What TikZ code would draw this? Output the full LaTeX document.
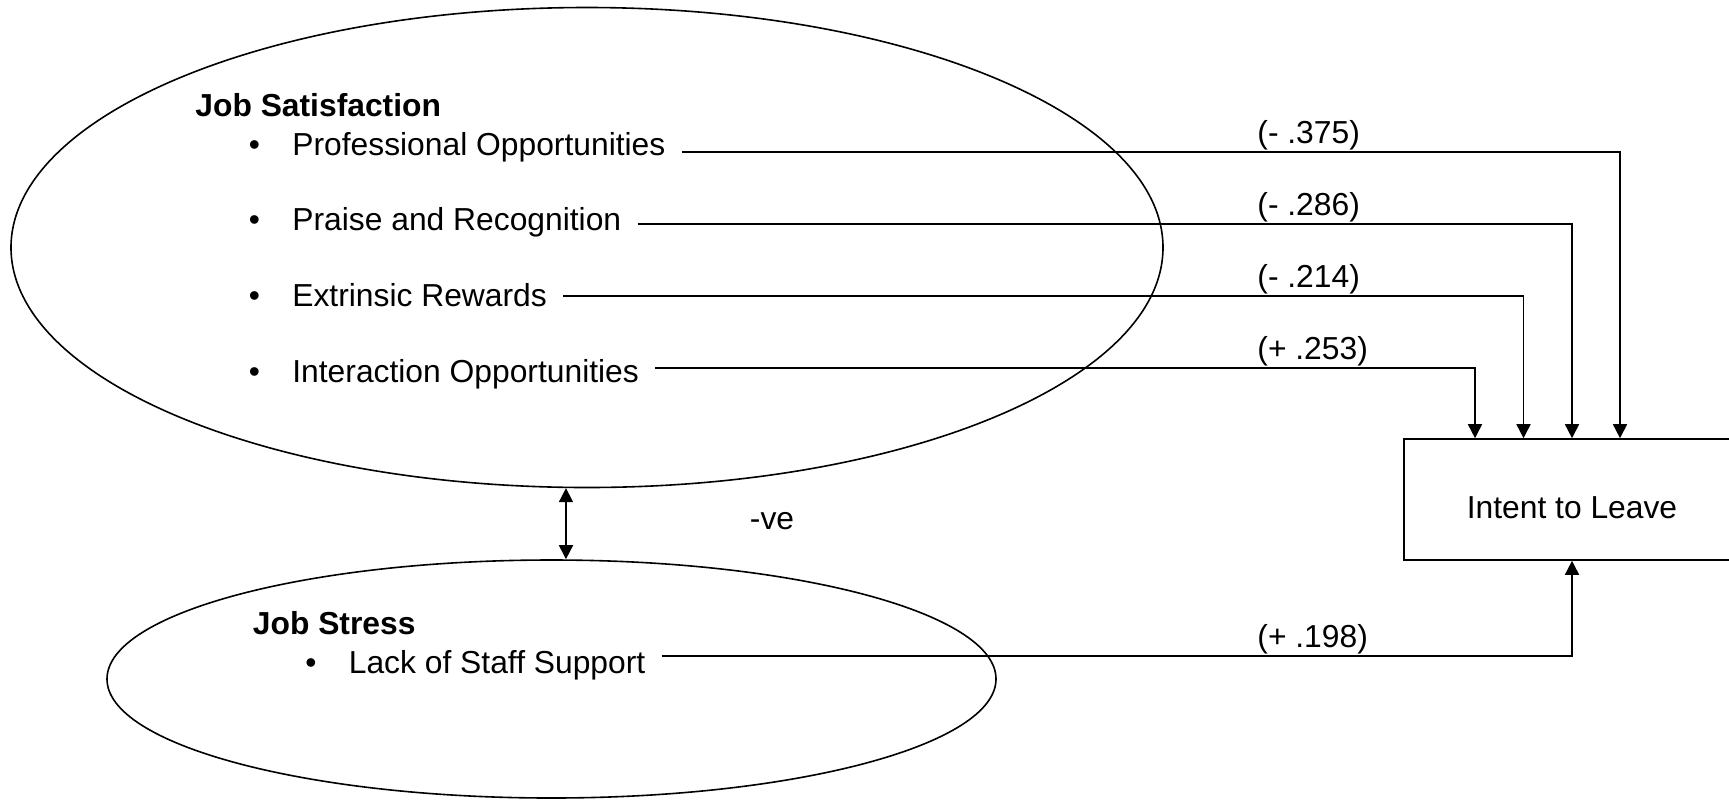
\documentclass[tikz,border=0pt]{standalone}
\usepackage{fontspec}
\setmainfont{Liberation Sans}
\usetikzlibrary{shapes.geometric,arrows.meta}
\tikzset{
  factor/.style={draw, ellipse, inner sep=0pt, line width=0.8pt},
  outcome/.style={draw, rectangle, inner sep=0pt, line width=0.8pt,
    font=\fontsize{15.9}{19}\selectfont},
  heading/.style={anchor=base west, inner sep=0pt,
    font=\fontsize{15.9}{19}\selectfont\bfseries},
  item/.style={anchor=base west, inner sep=0pt,
    font=\fontsize{15.9}{19}\selectfont},
  coef/.style={anchor=base west, inner sep=0pt, yshift=4.5pt,
    font=\fontsize{15.9}{19}\selectfont},
  link/.style={line width=0.8pt, shorten <=8pt,
    -{Triangle[length=7pt,width=7pt]}},
  corr/.style={line width=0.8pt,
    {Triangle[length=7pt,width=7pt]}-{Triangle[length=7pt,width=7pt]}}
}
\newcommand{\itembullet}{\llap{\textbullet\hspace{16.2pt}}}

\begin{document}
\begin{tikzpicture}[x=0.5pt,y=-0.5pt]
%pixel grid of the original: 1729 x 799, y downwards
\newcommand{\labx}{1257}
\newcommand{\itemx}{292}
\useasboundingbox (0,0) rectangle (1729,799);
%the two factors
\node [factor, minimum width=576pt, minimum height=240pt] (jsat) at (587,247.5) {};
\node [factor, minimum width=444.5pt, minimum height=119pt] (jstress) at (551.5,679) {};
\node [heading] (jsathead) at (195,116) {Job Satisfaction};
\node [item] (pro) at (\itemx,155) {\itembullet Professional Opportunities};
\node [item] (pra) at (\itemx,230.5) {\itembullet Praise and Recognition};
\node [item] (ext) at (\itemx,306.7) {\itembullet Extrinsic Rewards};
\node [item] (int) at (\itemx,382) {\itembullet Interaction Opportunities};
\node [heading] (jstresshead) at (252.5,634) {Job Stress};
\node [item] (lack) at (348.5,673.3) {\itembullet Lack of Staff Support};
%outcome box, its right side runs off the page
\node [outcome, minimum width=168pt, minimum height=60.5pt, text height=19pt] (leave) at (1572,499.5) {Intent to Leave};
%correlation between the factors
\draw [corr] (jsat.-95.6) -- (jsat.-95.6 |- jstress.north);
\node (neg) at (772,521) [font=\fontsize{15.9}{19}\selectfont] {-ve};
%paths into the box
\draw [link] ([yshift=1.5pt]pro.base east) -| ([xshift=24pt]leave.north);
\draw [link] ([yshift=3.25pt]pra.base east) -| (leave.north);
\draw [link] ([yshift=5.35pt]ext.base east) -| ([xshift=-24.25pt]leave.north);
\draw [link] ([yshift=7pt]int.base east) -| ([xshift=-48.5pt]leave.north);
\draw [link] ([yshift=8.65pt]lack.base east) -| (leave.south);
\node [coef] (cpro) at (\labx,152) {(- .375)};
\node [coef] (cpra) at (\labx,224) {(- .286)};
\node [coef] (cext) at (\labx,296) {(- .214)};
\node [coef] (cint) at (\labx,368) {(+ .253)};
\node [coef] (clack) at (\labx,656) {(+ .198)};
\end{tikzpicture}
\end{document}
